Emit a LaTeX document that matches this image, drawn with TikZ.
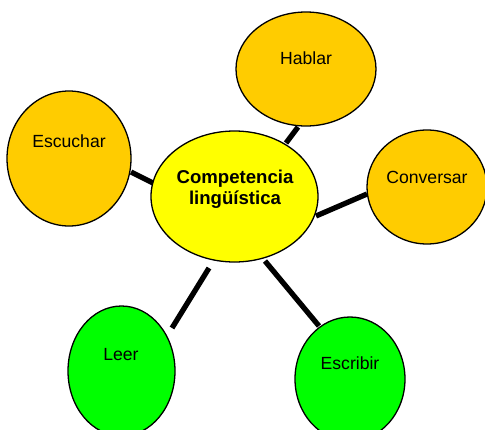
\documentclass[tikz,border=0pt]{standalone}
\usepackage{fontspec}
\setmainfont{Liberation Sans}
\usetikzlibrary{shapes.geometric}
\definecolor{orangefill}{HTML}{FFCC00}
\definecolor{yellowfill}{HTML}{FFFF00}
\definecolor{greenfill}{HTML}{00FF00}
\begin{document}
\begin{tikzpicture}[x=1pt,y=-1pt,
  bubble/.style={ellipse,draw=black,line width=1.3pt,inner sep=0pt},
  lab/.style={font=\fontsize{17.6}{21}\selectfont,align=center,inner sep=0pt},
  link/.style={line width=5.3pt}]
\useasboundingbox (0,0) rectangle (485,429);
% connectors (behind the bubbles)
\coordinate (h1) at (298,127); \coordinate (h2) at (286,143);
\coordinate (e1) at (131,172); \coordinate (e2) at (153,183);
\coordinate (v1) at (367,194); \coordinate (v2) at (316,216);
\coordinate (l1) at (209,268); \coordinate (l2) at (172,328);
\coordinate (s1) at (265,261); \coordinate (s2) at (319,326);
\draw[link] (h1) -- (h2);
\draw[link] (e1) -- (e2);
\draw[link] (v1) -- (v2);
\draw[link] (l1) -- (l2);
\draw[link] (s1) -- (s2);
% bubbles
\node[bubble,fill=yellowfill,minimum width=167pt,minimum height=131pt] (comp) at (234.5,196.5) {};
\node[bubble,fill=orangefill,minimum width=140pt,minimum height=114pt] (hablar) at (306,69) {};
\node[bubble,fill=orangefill,minimum width=124pt,minimum height=135pt] (escuchar) at (69,158.5) {};
\node[bubble,fill=orangefill,minimum width=120pt,minimum height=114pt] (conversar) at (427,187) {};
\node[bubble,fill=greenfill,minimum width=107pt,minimum height=130pt] (leer) at (121.5,371) {};
\node[bubble,fill=greenfill,minimum width=110pt,minimum height=124pt] (escribir) at (350,379) {};
% texts
\node[lab,font=\fontsize{18.6}{21}\selectfont\bfseries] (tcomp) at (235,189) {Competencia\\lingüística};
\node[lab] (thablar) at (306,58) {Hablar};
\node[lab] (tescuchar) at (69,141) {Escuchar};
\node[lab] (tconversar) at (427,177) {Conversar};
\node[lab] (tleer) at (121,355) {Leer};
\node[lab] (tescribir) at (350,363) {Escribir};
\end{tikzpicture}
\end{document}
